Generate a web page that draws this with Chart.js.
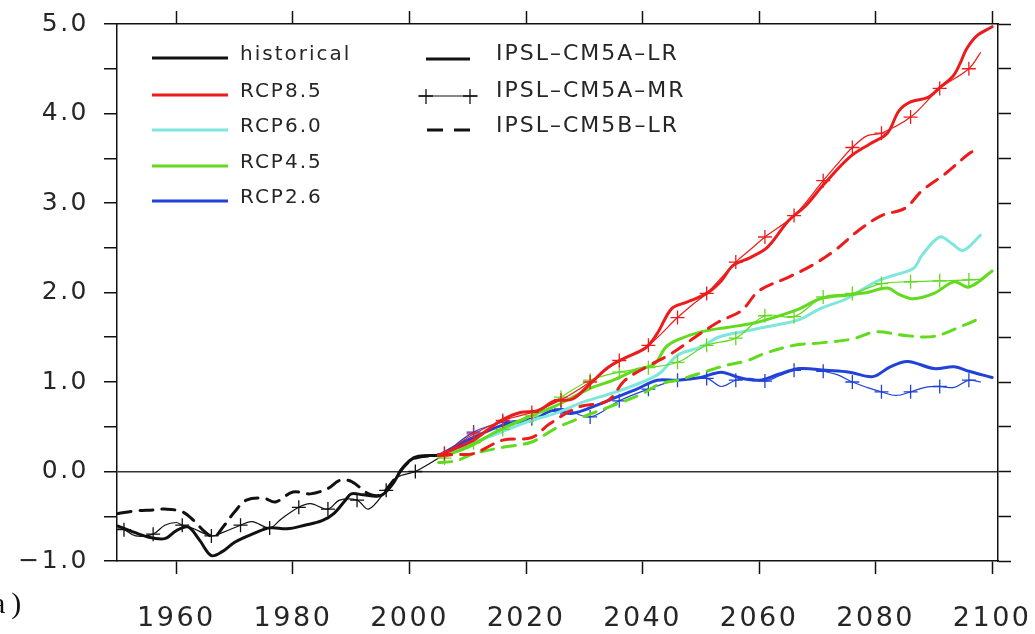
<!DOCTYPE html>
<html>
<head>
<meta charset="utf-8">
<title>IPSL global mean temperature anomaly</title>
<script src="https://cdn.jsdelivr.net/npm/chart.js@4.4.1/dist/chart.umd.min.js"></script>
<style>
  html, body { margin: 0; padding: 0; background: #fff; }
</style>
</head>
<body>
<canvas id="tas" width="1035" height="634"></canvas>
<script>
// tick positions
const xTickYears = [1960, 1980, 2000, 2020, 2040, 2060, 2080, 2100];

// historical
const yrHistLR = [1950, 1952, 1955, 1958, 1960, 1962, 1964, 1966, 1968, 1970, 1973, 1976, 1979, 1982, 1985, 1987, 1989, 1990, 1992, 1995, 1997, 1998.5, 2000, 2001.5, 2005];
const histLR   = [-0.61, -0.66, -0.73, -0.75, -0.66, -0.62, -0.77, -0.94, -0.89, -0.79, -0.70, -0.63, -0.64, -0.60, -0.55, -0.47, -0.32, -0.25, -0.26, -0.27, -0.15, 0.01, 0.12, 0.17, 0.18];
const yrHistMR = [1950, 1951, 1953, 1956, 1958, 1960, 1961, 1963, 1966, 1968, 1971, 1973, 1976, 1978, 1981, 1983, 1986, 1988, 1991, 1993, 1996, 1998, 2001, 2006];
const histMR   = [-0.64, -0.65, -0.72, -0.70, -0.60, -0.57, -0.60, -0.64, -0.72, -0.68, -0.60, -0.56, -0.63, -0.53, -0.40, -0.36, -0.42, -0.32, -0.32, -0.42, -0.21, -0.06, 0.00, 0.19];
const yrHist5B = [1950, 1953, 1956, 1958, 1961, 1963, 1965, 1966.5, 1968, 1970, 1972, 1975, 1977, 1980, 1983, 1986, 1988, 1990, 1993, 1995, 1997, 1999, 2001, 2005];
const hist5B   = [-0.47, -0.44, -0.43, -0.42, -0.45, -0.55, -0.68, -0.73, -0.62, -0.45, -0.32, -0.30, -0.34, -0.23, -0.25, -0.19, -0.10, -0.11, -0.25, -0.26, -0.12, 0.05, 0.15, 0.18];

// RCP8.5
const yr85LR = [2005, 2008, 2011, 2013.5, 2016, 2019, 2022, 2025, 2028, 2031, 2034, 2037, 2040.5, 2042.5, 2045, 2047.5, 2051, 2053.5, 2055.5, 2058.5, 2061.5, 2065, 2068, 2071, 2075.5, 2079, 2082, 2084, 2086, 2089, 2091, 2093.3, 2094.5, 2095.6, 2097.4, 2100];
const rcp85LR = [0.18, 0.26, 0.35, 0.47, 0.58, 0.66, 0.68, 0.79, 0.81, 0.98, 1.16, 1.27, 1.38, 1.54, 1.82, 1.89, 1.99, 2.13, 2.30, 2.39, 2.51, 2.80, 2.97, 3.20, 3.51, 3.66, 3.78, 4.03, 4.13, 4.18, 4.29, 4.42, 4.56, 4.72, 4.87, 4.97];
const yr85MR = [2006, 2011, 2016, 2021, 2026, 2031, 2036, 2041, 2046, 2048.5, 2051, 2056, 2058.5, 2061, 2066, 2071, 2073.5, 2076, 2078.5, 2081, 2086, 2091, 2096, 2098];
const rcp85MR = [0.20, 0.42, 0.57, 0.66, 0.80, 1.00, 1.24, 1.41, 1.72, 1.86, 1.99, 2.34, 2.48, 2.62, 2.86, 3.25, 3.44, 3.62, 3.75, 3.78, 3.96, 4.28, 4.50, 4.68];
const yr855B = [2005, 2008, 2011, 2016, 2021, 2024, 2029, 2034, 2037, 2041, 2045, 2049, 2053, 2057, 2060, 2065, 2069, 2073, 2077, 2081, 2085, 2088, 2092, 2096, 2097.5];
const rcp855B = [0.18, 0.19, 0.20, 0.35, 0.38, 0.53, 0.72, 0.79, 1.02, 1.18, 1.32, 1.50, 1.67, 1.80, 2.02, 2.17, 2.30, 2.47, 2.69, 2.86, 2.94, 3.14, 3.33, 3.55, 3.60];

// RCP6.0
const yr60LR = [2005, 2010, 2015, 2020, 2025, 2030, 2035, 2040, 2043, 2046, 2050, 2053, 2057, 2060, 2064, 2067, 2070.5, 2075, 2080, 2083, 2086.5, 2088, 2091, 2093, 2095, 2098];
const rcp60LR = [0.18, 0.30, 0.42, 0.55, 0.65, 0.78, 0.88, 1.00, 1.10, 1.30, 1.39, 1.50, 1.56, 1.60, 1.65, 1.70, 1.82, 1.93, 2.12, 2.19, 2.27, 2.42, 2.62, 2.55, 2.47, 2.64];

// RCP4.5
const yr45LR = [2005, 2010, 2015, 2020, 2025, 2031, 2035, 2039, 2042, 2044, 2046, 2050, 2054.5, 2058.5, 2062.5, 2067, 2070.5, 2075, 2078.5, 2082, 2084, 2086.5, 2090, 2093.5, 2096, 2100];
const rcp45LR = [0.16, 0.27, 0.45, 0.60, 0.73, 0.93, 1.02, 1.14, 1.20, 1.39, 1.47, 1.56, 1.61, 1.65, 1.72, 1.82, 1.93, 1.97, 2.00, 2.05, 1.98, 1.93, 1.99, 2.12, 2.06, 2.24];
const yr45MR = [2006, 2011, 2016, 2021, 2026, 2031, 2036, 2041, 2046, 2051, 2056, 2061, 2066, 2071, 2076, 2081, 2086, 2091, 2096, 2098];
const rcp45MR = [0.15, 0.32, 0.47, 0.62, 0.83, 1.02, 1.11, 1.16, 1.22, 1.41, 1.49, 1.74, 1.73, 1.95, 1.99, 2.10, 2.12, 2.13, 2.14, 2.15];
const yr455B = [2005, 2008, 2011, 2016, 2021, 2025, 2029, 2035, 2040, 2043, 2046, 2050, 2054, 2058, 2061, 2066, 2071, 2076, 2080, 2085, 2090, 2095, 2097.5];
const rcp455B = [0.10, 0.12, 0.20, 0.27, 0.33, 0.48, 0.59, 0.74, 0.87, 0.98, 1.02, 1.10, 1.18, 1.24, 1.32, 1.41, 1.44, 1.48, 1.56, 1.52, 1.51, 1.63, 1.70];

// RCP2.6
const yr26LR = [2005, 2010, 2016.5, 2021, 2024.5, 2028, 2032.5, 2035.5, 2039, 2042.5, 2046, 2050, 2053.5, 2056.5, 2060, 2063.5, 2067, 2071.5, 2075.5, 2079.5, 2082.5, 2085.5, 2090, 2093.5, 2096, 2100];
const rcp26LR = [0.18, 0.35, 0.53, 0.57, 0.68, 0.65, 0.75, 0.83, 0.92, 1.02, 1.02, 1.05, 1.11, 1.05, 1.02, 1.09, 1.15, 1.13, 1.11, 1.06, 1.17, 1.23, 1.15, 1.17, 1.12, 1.05];
const yr26MR = [2006, 2011, 2016, 2021, 2026, 2031, 2036, 2041, 2046, 2051, 2053.5, 2056, 2058.5, 2061, 2063.5, 2066, 2068.5, 2071, 2073.5, 2076, 2078.5, 2081, 2083.5, 2086, 2088.5, 2091, 2093.5, 2096, 2098];
const rcp26MR = [0.20, 0.44, 0.55, 0.59, 0.70, 0.61, 0.79, 0.92, 1.02, 1.04, 0.95, 1.02, 1.04, 1.01, 1.07, 1.13, 1.15, 1.12, 1.08, 1.00, 0.94, 0.89, 0.85, 0.89, 0.94, 0.95, 0.94, 1.02, 1.00];

const BLACK = '#111111';
const RED = '#ec1c1c';
const CYAN = '#7fe6de';
const GREEN = '#62da1e';
const BLUE = '#2142d6';
const TEXT = '#262626';
const FONT = '"DejaVu Sans", sans-serif';

function pts(years, vals) {
    return years.map((x, i) => ({ x: x, y: vals[i] }));
}

// "+" every five years on the CM5A-MR runs (1951, 1956, ... 2096)
function onMarkYear(x) {
    const r = ((x - 1951) % 5 + 5) % 5;
    return r < 1e-6 || r > 5 - 1e-6;
}

function lr(label, years, vals, color) {
    return { label: label, data: pts(years, vals), borderColor: color, borderWidth: 3, pointRadius: 0 };
}
function mr(label, years, vals, color, lastMark) {
    return {
        label: label, data: pts(years, vals), borderColor: color, borderWidth: 1.2,
        pointStyle: 'cross', pointBorderColor: color, pointBorderWidth: 1.3,
        pointRadius: c => (c.raw && c.raw.x <= lastMark && onMarkYear(c.raw.x)) ? 7 : 0
    };
}
function b5(label, years, vals, color) {
    return { label: label, data: pts(years, vals), borderColor: color, borderWidth: 3, borderDash: [13, 9], pointRadius: 0 };
}

const datasets = [
    lr('RCP8.5 IPSL-CM5A-LR', yr85LR, rcp85LR, RED),
    mr('RCP8.5 IPSL-CM5A-MR', yr85MR, rcp85MR, RED, 2100),
    b5('RCP8.5 IPSL-CM5B-LR', yr855B, rcp855B, RED),
    lr('RCP4.5 IPSL-CM5A-LR', yr45LR, rcp45LR, GREEN),
    mr('RCP4.5 IPSL-CM5A-MR', yr45MR, rcp45MR, GREEN, 2100),
    b5('RCP4.5 IPSL-CM5B-LR', yr455B, rcp455B, GREEN),
    lr('RCP6.0 IPSL-CM5A-LR', yr60LR, rcp60LR, CYAN),
    lr('RCP2.6 IPSL-CM5A-LR', yr26LR, rcp26LR, BLUE),
    mr('RCP2.6 IPSL-CM5A-MR', yr26MR, rcp26MR, BLUE, 2100),
    lr('historical IPSL-CM5A-LR', yrHistLR, histLR, BLACK),
    mr('historical IPSL-CM5A-MR', yrHistMR, histMR, BLACK, 2001),
    b5('historical IPSL-CM5B-LR', yrHist5B, hist5B, BLACK)
];

// legend, panel letter and letter spacing for the axis text
const decor = {
    id: 'decor',
    beforeDraw(chart) {
        chart.ctx.letterSpacing = '2.5px';
    },
    afterDraw(chart) {
        const ctx = chart.ctx;
        ctx.save();
        ctx.lineCap = 'butt';

        const left = [['historical', BLACK], ['RCP8.5', RED], ['RCP6.0', CYAN], ['RCP4.5', GREEN], ['RCP2.6', BLUE]];
        const leftY = [58, 95, 130, 166, 201];
        ctx.font = '20px ' + FONT;
        ctx.letterSpacing = '2px';
        ctx.textBaseline = 'alphabetic';
        left.forEach((e, i) => {
            ctx.strokeStyle = e[1];
            ctx.lineWidth = 3;
            ctx.setLineDash([]);
            ctx.beginPath();
            ctx.moveTo(152, leftY[i]);
            ctx.lineTo(228, leftY[i]);
            ctx.stroke();
            ctx.fillStyle = TEXT;
            ctx.fillText(e[0], 240, leftY[i] + 2);
        });

        ctx.strokeStyle = BLACK;
        // CM5A-LR: thick solid
        ctx.lineWidth = 3;
        ctx.beginPath(); ctx.moveTo(426, 59); ctx.lineTo(470, 59); ctx.stroke();
        // CM5A-MR: thin line with crosses
        ctx.lineWidth = 1.2;
        ctx.beginPath(); ctx.moveTo(418, 96); ctx.lineTo(478, 96); ctx.stroke();
        ctx.lineWidth = 1.3;
        [426, 470].forEach(px => {
            ctx.beginPath();
            ctx.moveTo(px - 7, 96); ctx.lineTo(px + 7, 96);
            ctx.moveTo(px, 89); ctx.lineTo(px, 104);
            ctx.stroke();
        });
        // CM5B-LR: thick dashes
        ctx.lineWidth = 3;
        ctx.setLineDash([16, 11]);
        ctx.beginPath(); ctx.moveTo(427, 130); ctx.lineTo(471, 130); ctx.stroke();
        ctx.setLineDash([]);

        ctx.font = '22px ' + FONT;
        ctx.fillStyle = TEXT;
        ctx.fillText('IPSL–CM5A–LR', 496, 60);
        ctx.fillText('IPSL–CM5A–MR', 496, 97);
        ctx.fillText('IPSL–CM5B–LR', 496, 132);

        ctx.font = '30px "Liberation Serif", serif';
        ctx.letterSpacing = '6px';
        ctx.fillStyle = '#111';
        ctx.fillText('a)', -8, 613);
        ctx.restore();
    }
};

const axisGrid = { drawOnChartArea: false, tickLength: 13, tickColor: BLACK, tickWidth: 1.5 };
const axisBorder = { display: true, color: BLACK, width: 1.5 };
const setXTicks = axis => { axis.ticks = xTickYears.map(v => ({ value: v })); };
const fmtY = v => Math.abs(v - Math.round(v)) < 1e-9 ? v.toFixed(1).replace('-', '\u2212') : '';

// fixed box sizes so the frame sits where it should, no label padding
function fixBox(w, h) {
    return s => {
        if (w !== null) s.width = w;
        if (h !== null) s.height = h;
        s.paddingLeft = 0; s.paddingRight = 0; s.paddingTop = 0; s.paddingBottom = 0;
    };
}

new Chart(document.getElementById('tas'), {
    type: 'line',
    data: { datasets: datasets },
    options: {
        responsive: false,
        animation: false,
        events: [],
        layout: { padding: 0, autoPadding: false },
        plugins: { legend: { display: false }, tooltip: { enabled: false } },
        elements: {
            line: { tension: 0.35, borderCapStyle: 'round', borderJoinStyle: 'round' },
            point: { radius: 0, hoverRadius: 0 }
        },
        scales: {
            x: {
                type: 'linear', position: 'bottom', min: 1949.8, max: 2101,
                afterBuildTicks: setXTicks,
                afterFit: fixBox(null, 73),
                ticks: {
                    autoSkip: false, maxRotation: 0, padding: 29, color: TEXT,
                    font: { family: FONT, size: 27 },
                    callback: v => String(v)
                },
                grid: axisGrid, border: axisBorder
            },
            xTop: {
                type: 'linear', position: 'top', min: 1949.8, max: 2101,
                afterBuildTicks: setXTicks,
                afterFit: fixBox(null, 24),
                ticks: { display: false },
                grid: axisGrid, border: axisBorder
            },
            y: {
                type: 'linear', position: 'left', min: -1, max: 5,
                afterFit: fixBox(117, null),
                ticks: {
                    stepSize: 0.5, padding: 15, color: TEXT,
                    font: { family: FONT, size: 25 },
                    callback: fmtY
                },
                grid: {
                    drawOnChartArea: true, tickLength: 13, tickColor: BLACK, tickWidth: 1.5, lineWidth: 1.5,
                    color: c => (c.tick && c.tick.value === 0) ? '#333' : 'rgba(0,0,0,0)'
                },
                border: axisBorder
            },
            yRight: {
                type: 'linear', position: 'right', min: -1, max: 5,
                afterFit: fixBox(37, null),
                ticks: { display: false, stepSize: 0.5 },
                grid: axisGrid, border: axisBorder
            }
        }
    },
    plugins: [decor]
});
</script>
</body>
</html>
